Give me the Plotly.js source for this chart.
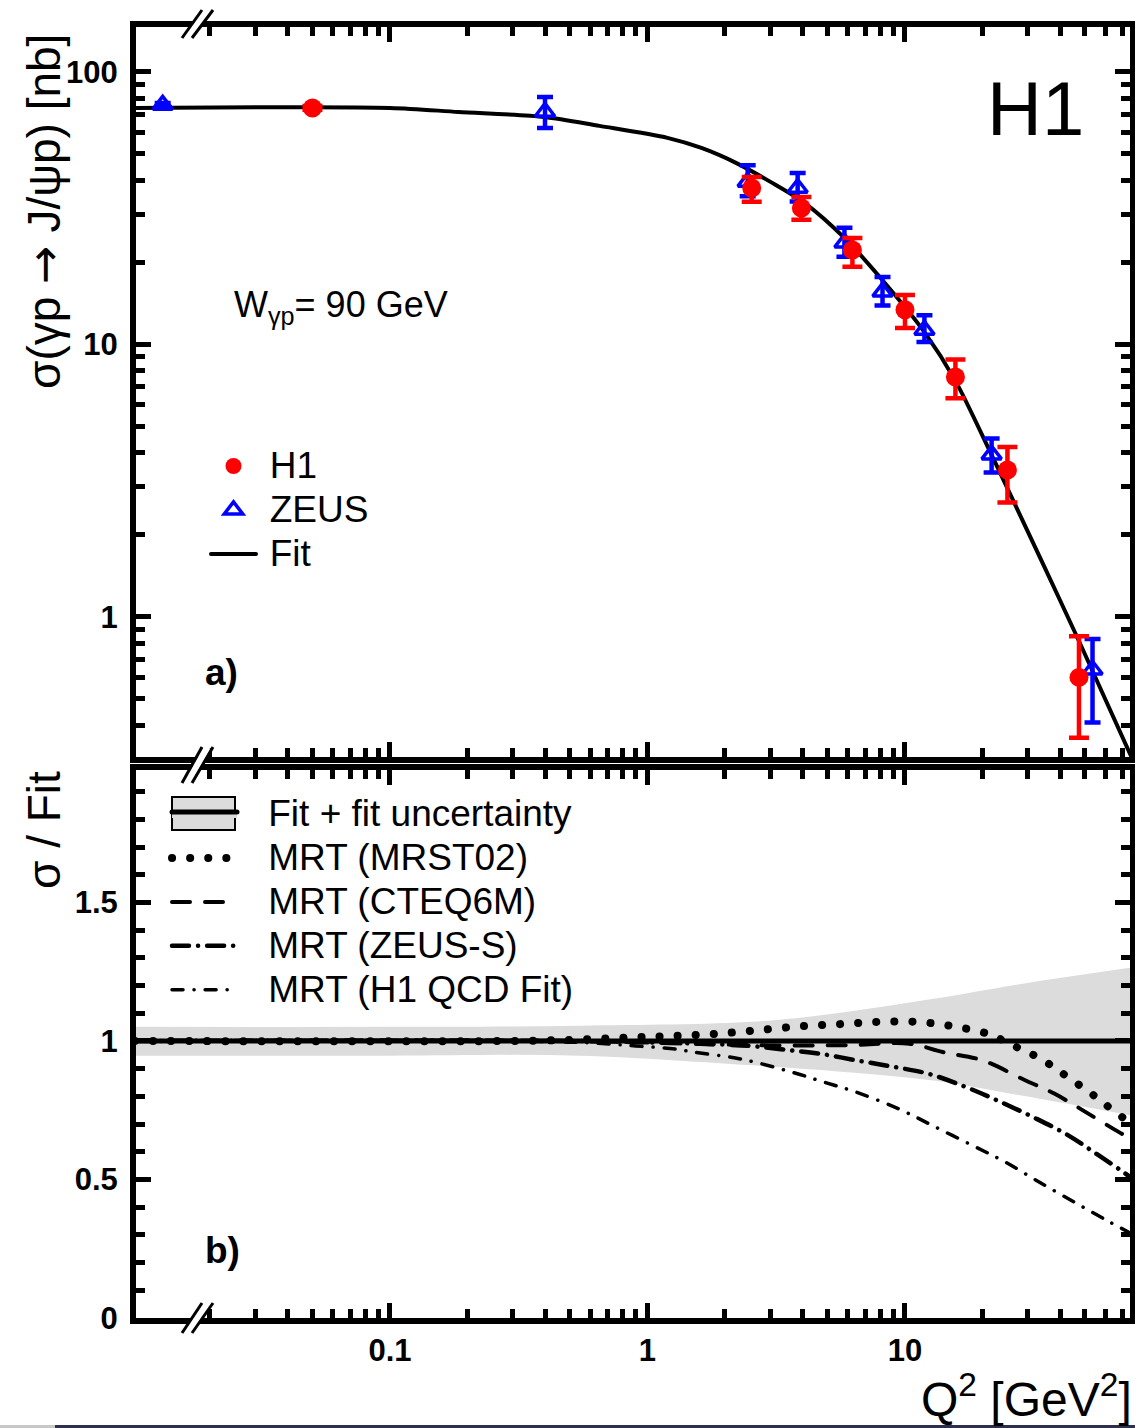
<!DOCTYPE html>
<html><head><meta charset="utf-8">
<script src="https://cdn.plot.ly/plotly-3.0.1.min.js"></script>
<style>
html,body{margin:0;padding:0;background:#fff;}
#chart{width:1135px;height:1428px;}
.scatterlayer path.js-line, .legendlines path.js-line { stroke-linecap: round; }
</style>
</head><body><div id="chart"></div>
<script>
// ---------- data ----------
// panel a): cross section vs Q^2
const h1Q2     = [0.05, 2.54, 3.96, 6.25, 10.0, 15.7, 25.0, 47.4];
const h1Sigma  = [73.8, 37.5, 31.7, 22.2, 13.4, 7.6, 3.46, 0.60];
const h1Hi     = [75.0, 41.2, 34.8, 24.6, 15.2, 8.8, 4.2, 0.85];
const h1Lo     = [72.6, 33.4, 28.7, 19.3, 11.5, 6.35, 2.63, 0.36];

const zeusQ2    = [0.0131, 0.40, 2.45, 3.83, 5.82, 8.18, 11.9, 21.7, 53.5];
const zeusSigma = [75.7, 71.3, 39.5, 37.5, 23.6, 15.6, 11.3, 3.94, 0.64];
const zeusHi    = [77.0, 81.0, 45.5, 42.6, 26.8, 17.7, 12.8, 4.52, 0.83];
const zeusLo    = [74.4, 62.3, 35.0, 33.5, 21.0, 13.9, 10.2, 3.39, 0.41];

const fitQ2    = [0.0103, 0.1, 0.1845, 0.398, 0.651, 1.196, 1.62, 2.216, 3.004, 4.07, 5.82, 8.18, 11.9, 15.7, 21.7, 34.5, 46.8, 59.6, 76.4];
const fitSigma = [73.8, 73.8, 71.3, 68.4, 63.4, 57.3, 52.6, 46.3, 39.5, 33.1, 24.6, 17.2, 11.1, 7.35, 3.93, 1.552, 0.837, 0.505, 0.301];

// panel b): ratio to fit
const ratioQ2  = [0.0102, 76.0];
const fitRatio = [1.0, 1.0];

const bandQ2 = [0.0102, 0.1, 0.544, 2.65, 5.82, 12.9, 28.3, 77.0];
const bandHi = [1.051, 1.051, 1.055, 1.070, 1.104, 1.152, 1.206, 1.266];
const bandLo = [0.947, 0.947, 0.947, 0.911, 0.888, 0.857, 0.803, 0.730];

const mrstQ2 = [0.0102, 0.3, 0.544, 0.93, 1.28, 1.79, 2.49, 4.07, 5.67, 7.89, 11.0, 15.2, 21.1, 24.3, 28.1, 32.7, 37.8, 42.8, 49.4, 56.4, 63.9, 73.8, 76.5];
const mrstR  = [1.0, 1.0, 1.005, 1.014, 1.018, 1.025, 1.036, 1.054, 1.061, 1.069, 1.069, 1.054, 1.025, 1.0, 0.971, 0.942, 0.906, 0.870, 0.830, 0.791, 0.751, 0.708, 0.695];

const cteqQ2 = [0.0102, 0.5, 1.5, 3.0, 6.0, 10.4, 14.0, 20.0, 29.0, 38.0, 50.0, 68.0, 76.5];
const cteqR  = [1.0, 1.0, 0.99, 0.984, 0.985, 0.99, 0.96, 0.93, 0.86, 0.81, 0.745, 0.67, 0.645];

const zeusSQ2 = [0.0102, 0.5, 1.0, 1.6, 2.49, 3.46, 4.74, 6.65, 9.1, 12.4, 17.2, 23.1, 31.3, 42.2, 55.5, 73.8, 76.5];
const zeusSR  = [1.0, 1.0, 0.995, 0.99, 0.982, 0.968, 0.953, 0.928, 0.906, 0.881, 0.834, 0.783, 0.726, 0.664, 0.592, 0.513, 0.50];

const h1qcdQ2 = [0.0102, 0.3, 0.6, 0.9, 1.28, 1.5, 2.3, 3.62, 4.83, 6.43, 9.44, 12.9, 18.8, 24.3, 33.3, 47.1, 62.8, 75.6];
const h1qcdR  = [1.0, 1.0, 0.993, 0.982, 0.971, 0.960, 0.935, 0.888, 0.852, 0.816, 0.755, 0.693, 0.617, 0.565, 0.49, 0.41, 0.345, 0.305];

// tick labels
const xMajor = [0.1, 1, 10];
const xMajorText = ['0.1', '1', '10'];
const xMinor = [0.02,0.03,0.04,0.05,0.06,0.07,0.08,0.09, 0.2,0.3,0.4,0.5,0.6,0.7,0.8,0.9, 2,3,4,5,6,7,8,9, 20,30,40,50,60,70];
const yMajor = [1, 10, 100];
const yMajorText = ['1', '10', '100'];
const yMinor = [0.4,0.5,0.6,0.7,0.8,0.9, 2,3,4,5,6,7,8,9, 20,30,40,50,60,70,80,90];
const rMajor = [0, 0.5, 1, 1.5];
const rMajorText = ['0', '0.5', '1', '1.5'];
const rMinor = [0.1,0.2,0.3,0.4,0.6,0.7,0.8,0.9,1.1,1.2,1.3,1.4,1.6,1.7,1.8,1.9];

// ---------- layout helpers ----------
const FONT = 'Liberation Sans, Arial, Helvetica, sans-serif';
const L = 136, R = 1130, T = 27, B = 1318;
const px2x = p => (p - L) / (R - L);
const py2y = p => (B - p) / (B - T);
const NB = '\u00a0';
const big = (s, n) => NB.repeat(n) + '<span style="font-size:37px">' + s + '</span>';

const errUp = (v, hi) => hi.map((h, i) => h - v[i]);
const errDn = (v, lo) => lo.map((l, i) => v[i] - l);

const traces = [
  { x: fitQ2, y: fitSigma, xaxis: 'x', yaxis: 'y', mode: 'lines', name: big('Fit', 1),
    line: { color: '#000', width: 4, shape: 'spline', smoothing: 0.8 }, legend: 'legend', legendrank: 3 },
  { x: zeusQ2, y: zeusSigma, xaxis: 'x', yaxis: 'y', mode: 'markers', name: big('ZEUS', 1),
    marker: { symbol: 'triangle-up-open', size: 17, color: '#0000ff', line: { width: 3.5, color: '#0000ff' } },
    error_y: { type: 'data', symmetric: false, array: errUp(zeusSigma, zeusHi), arrayminus: errDn(zeusSigma, zeusLo),
               color: '#0000ff', thickness: 4.5, width: 8 },
    legend: 'legend', legendrank: 2 },
  { x: h1Q2, y: h1Sigma, xaxis: 'x', yaxis: 'y', mode: 'markers', name: big('H1', 1),
    marker: { symbol: 'circle', size: 19, color: '#ff0000' },
    error_y: { type: 'data', symmetric: false, array: errUp(h1Sigma, h1Hi), arrayminus: errDn(h1Sigma, h1Lo),
               color: '#ff0000', thickness: 4.5, width: 10 },
    legend: 'legend', legendrank: 1 },

  // panel b
  { x: bandQ2, y: bandLo, xaxis: 'x2', yaxis: 'y2', mode: 'lines', showlegend: false,
    line: { width: 0, shape: 'spline' }, hoverinfo: 'skip' },
  { x: ratioQ2, y: fitRatio, xaxis: 'x2', yaxis: 'y2', mode: 'lines', name: big('Fit + fit uncertainty', 3),
    fill: 'tonexty', fillcolor: '#dcdcdc', line: { color: '#000', width: 5 }, legend: 'legend2', legendrank: 1 },
  { x: bandQ2, y: bandHi, xaxis: 'x2', yaxis: 'y2', mode: 'lines', showlegend: false,
    fill: 'tonexty', fillcolor: '#dcdcdc', line: { width: 0, shape: 'spline' }, hoverinfo: 'skip' },
  { x: mrstQ2, y: mrstR, xaxis: 'x2', yaxis: 'y2', mode: 'lines', name: big('MRT (MRST02)', 3),
    line: { color: '#000', width: 8, dash: '0.1px,18px', shape: 'spline' }, legend: 'legend2', legendrank: 2 },
  { x: cteqQ2, y: cteqR, xaxis: 'x2', yaxis: 'y2', mode: 'lines', name: big('MRT (CTEQ6M)', 3),
    line: { color: '#000', width: 4, dash: '18px,15px', shape: 'spline' }, legend: 'legend2', legendrank: 3 },
  { x: zeusSQ2, y: zeusSR, xaxis: 'x2', yaxis: 'y2', mode: 'lines', name: big('MRT (ZEUS-S)', 3),
    line: { color: '#000', width: 4.5, dash: '17px,9px,0.1px,9px', shape: 'spline' }, legend: 'legend2', legendrank: 4 },
  { x: h1qcdQ2, y: h1qcdR, xaxis: 'x2', yaxis: 'y2', mode: 'lines', name: big('MRT (H1 QCD Fit)', 3),
    line: { color: '#000', width: 3.5, dash: '11px,11px,0.1px,11px', shape: 'spline' }, legend: 'legend2', legendrank: 5 }
];

const axBase = {
  showline: true, linecolor: '#000', linewidth: 6, mirror: 'allticks',
  ticks: 'inside', ticklen: 15, tickwidth: 5, tickcolor: '#000',
  showgrid: false, zeroline: false, fixedrange: true,
  tickfont: { family: FONT, size: 31, weight: 'bold', color: '#000' }
};
const minorLog = vals => ({ tickmode: 'array', tickvals: vals, ticks: 'inside', ticklen: 9, tickwidth: 5, tickcolor: '#000', showgrid: false });

const xRange = [Math.log10(0.01032), Math.log10(74.8)];

const layout = {
  width: 1135, height: 1428,
  margin: { l: L, r: 1135 - R, t: T, b: 1428 - B, pad: 0 },
  paper_bgcolor: '#fff', plot_bgcolor: 'rgba(0,0,0,0)',
  hovermode: false,
  font: { family: FONT, color: '#000' },
  xaxis: Object.assign({}, axBase, {
    type: 'log', range: xRange, anchor: 'y', domain: [0, 1],
    tickmode: 'array', tickvals: xMajor, ticktext: xMajorText, showticklabels: false,
    minor: minorLog(xMinor)
  }),
  xaxis2: Object.assign({}, axBase, {
    type: 'log', range: xRange, anchor: 'y2', domain: [0, 1],
    tickmode: 'array', tickvals: xMajor, ticktext: xMajorText, ticklabelstandoff: 0,
    minor: minorLog(xMinor)
  }),
  yaxis: Object.assign({}, axBase, {
    type: 'log', range: [-0.514, 2.165], anchor: 'x', domain: [py2y(757), 1],
    tickmode: 'array', tickvals: yMajor, ticktext: yMajorText, ticklabelstandoff: 6,
    minor: minorLog(yMinor)
  }),
  yaxis2: Object.assign({}, axBase, {
    range: [0, 1.978], anchor: 'x2', domain: [0, py2y(770)],
    tickmode: 'array', tickvals: rMajor, ticktext: rMajorText, ticklabelstandoff: 6,
    minor: minorLog(rMinor)
  }),
  legend: {
    x: px2x(206), y: py2y(439), xanchor: 'left', yanchor: 'top',
    bgcolor: 'rgba(0,0,0,0)', borderwidth: 0, itemwidth: 45, tracegroupgap: 0,
    font: { family: FONT, size: 31.5, color: '#000' }, traceorder: 'normal'
  },
  legend2: {
    x: px2x(167), y: py2y(787), xanchor: 'left', yanchor: 'top',
    bgcolor: 'rgba(0,0,0,0)', borderwidth: 0, itemwidth: 65, tracegroupgap: 0,
    font: { family: FONT, size: 31.5, color: '#000' }, traceorder: 'normal'
  },
  annotations: [
    { xref: 'paper', yref: 'paper', x: px2x(1035), y: py2y(108), text: 'H1', showarrow: false,
      font: { family: FONT, size: 76, color: '#000' }, xanchor: 'center', yanchor: 'middle' },
    { xref: 'paper', yref: 'paper', x: px2x(232), y: py2y(307), text: 'W<sub>γp</sub>= 90 GeV', showarrow: false,
      font: { family: FONT, size: 36, color: '#000' }, xanchor: 'left', yanchor: 'middle' },
    { xref: 'paper', yref: 'paper', x: px2x(203), y: py2y(672), text: '<b>a)</b>', showarrow: false,
      font: { family: FONT, size: 37, color: '#000' }, xanchor: 'left', yanchor: 'middle' },
    { xref: 'paper', yref: 'paper', x: px2x(203), y: py2y(1250), text: '<b>b)</b>', showarrow: false,
      font: { family: FONT, size: 37, color: '#000' }, xanchor: 'left', yanchor: 'middle' },
    { xref: 'paper', yref: 'paper', x: px2x(44), y: py2y(212),
      text: 'σ(γp <span style="font-family:DejaVu Sans">→</span> J/ψp) [nb]', showarrow: false,
      textangle: -90, font: { family: FONT, size: 46, color: '#000' }, xanchor: 'center', yanchor: 'middle' },
    { xref: 'paper', yref: 'paper', x: px2x(44), y: py2y(830), text: 'σ / Fit', showarrow: false,
      textangle: -90, font: { family: FONT, size: 46, color: '#000' }, xanchor: 'center', yanchor: 'middle' },
    { xref: 'paper', yref: 'paper', x: px2x(1134), y: py2y(1396), text: 'Q<sup>2</sup> [GeV<sup>2</sup>]', showarrow: false,
      font: { family: FONT, size: 48, color: '#000' }, xanchor: 'right', yanchor: 'middle' }
  ],
  shapes: []
};

// axis-break marks ("//") on the x axis lines
function breakMarks(yTop, yBot) {
  const s = [];
  s.push({ type: 'line', xref: 'paper', yref: 'paper', x0: px2x(187), y0: py2y(yBot), x1: px2x(207.5), y1: py2y(yTop),
           line: { color: '#fff', width: 7 }, layer: 'above' });
  [[182, 202], [192, 213]].forEach(([a, b]) => s.push({ type: 'line', xref: 'paper', yref: 'paper',
           x0: px2x(a), y0: py2y(yBot), x1: px2x(b), y1: py2y(yTop), line: { color: '#000', width: 3 }, layer: 'above' }));
  return s;
}
layout.shapes = layout.shapes.concat(breakMarks(10, 38), breakMarks(747, 783), breakMarks(1303, 1333));
// legend key box for "Fit + fit uncertainty" (gray box behind the legend line)
layout.shapes.push({ type: 'rect', xref: 'paper', yref: 'paper', x0: px2x(172), x1: px2x(235), y0: py2y(830), y1: py2y(797),
  line: { color: '#000', width: 2 }, fillcolor: '#dcdcdc', layer: 'above' });
// thin frame strip at the bottom of the picture
layout.shapes.push({ type: 'rect', xref: 'paper', yref: 'paper', x0: px2x(0), x1: px2x(55), y0: py2y(1428), y1: py2y(1425),
  line: { width: 0 }, fillcolor: '#c8c8c8', layer: 'above' });
layout.shapes.push({ type: 'rect', xref: 'paper', yref: 'paper', x0: px2x(55), x1: px2x(1135), y0: py2y(1428), y1: py2y(1425),
  line: { width: 0 }, fillcolor: '#2e2e4e', layer: 'above' });

Plotly.newPlot('chart', traces, layout, { displayModeBar: false, staticPlot: true });
</script>
</body></html>
